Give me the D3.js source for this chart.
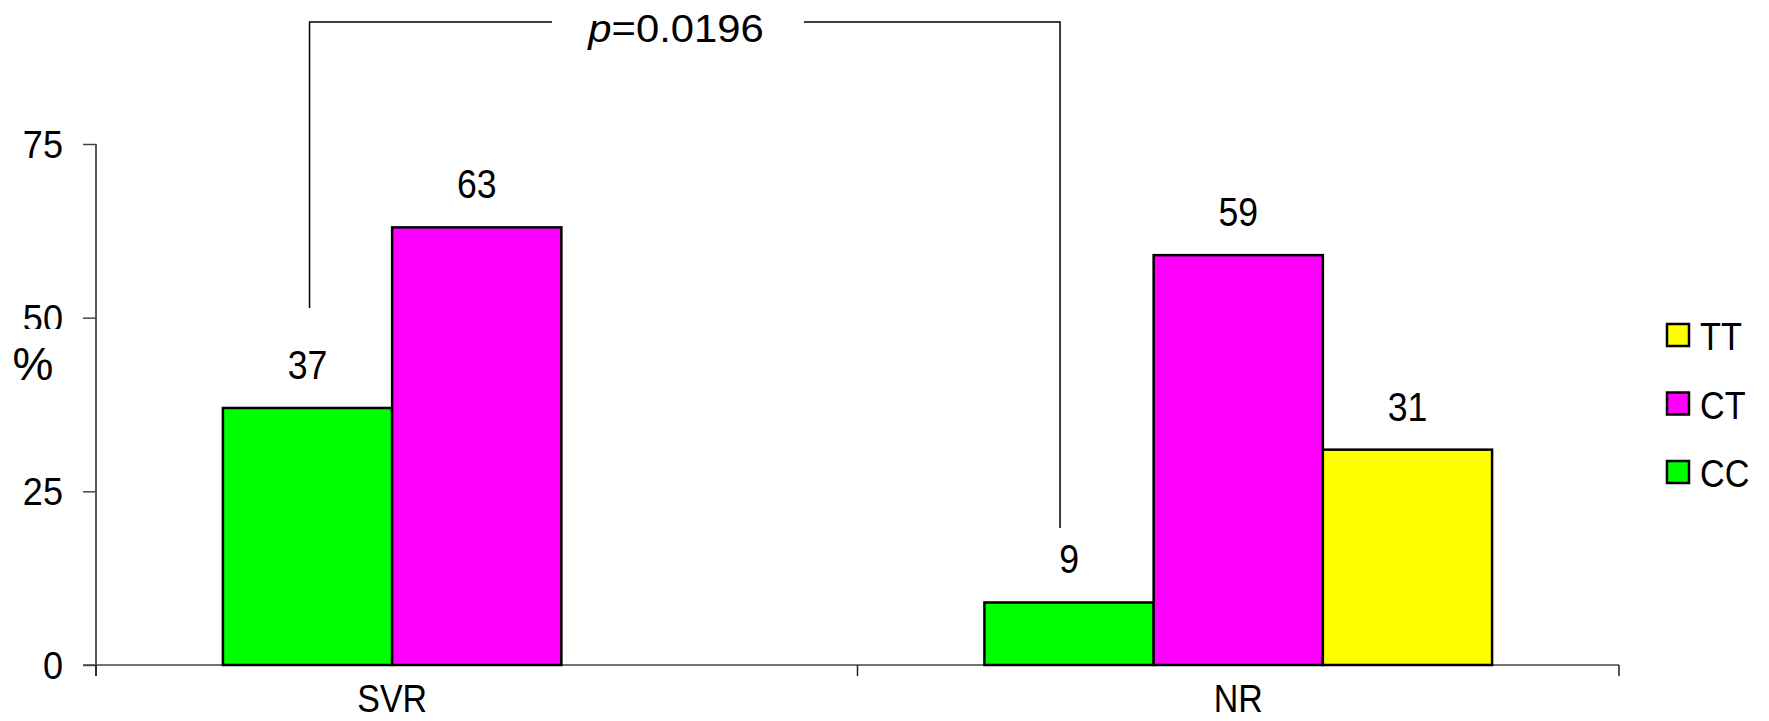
<!DOCTYPE html>
<html>
<head>
<meta charset="utf-8">
<script src="https://cdn.jsdelivr.net/npm/d3@7"></script>
<style>
  html, body { margin: 0; padding: 0; background: #fff; }
  svg { display: block; }
  text { font-family: "Liberation Sans", Arial, sans-serif; fill: #000; }
</style>
</head>
<body>
<svg id="chart" width="1769" height="721"></svg>
<script>
// ---- data ----
const categories = ["SVR", "NR"];
const series = ["CC", "CT", "TT"];
const valuesCC = [37, 9];
const valuesCT = [63, 59];
const valuesTT = [0, 31];
const yTicks = [0, 25, 50, 75];
const legendOrder = ["TT", "CT", "CC"];
const pLabelItalic = "p";
const pLabelRest = "=0.0196";
const yAxisTitle = "%";

const seriesValues = { CC: valuesCC, CT: valuesCT, TT: valuesTT };
const colors = { CC: "#00FF00", CT: "#FF00FF", TT: "#FFFF00" };

// ---- layout ----
const svg = d3.select("#chart");
const plot = { left: 96, right: 1619, top: 144, bottom: 665 };
const gapWidth = 1.5; // Excel-style gap width (150%)

const x0 = d3.scaleBand().domain(categories).range([plot.left, plot.right]).padding(0);
const barW = x0.bandwidth() / (series.length + gapWidth);
const x1 = d3.scaleBand().domain(series).range([0, barW * series.length]).padding(0);
const groupOffset = barW * gapWidth / 2;
const y = d3.scaleLinear().domain([0, 75]).range([plot.bottom, plot.top]);

function sText(sel, x, yy, size, sx, anchor) {
  return sel.append("text")
    .attr("transform", `translate(${x},${yy}) scale(${sx},1)`)
    .attr("text-anchor", anchor)
    .style("font-size", size + "px");
}

// ---- axes ----
const yAxis = d3.axisLeft(y).tickValues(yTicks).tickSize(13).tickPadding(20).tickFormat(d3.format("d"));
const gy = svg.append("g").attr("transform", `translate(${plot.left},0)`).call(yAxis);
gy.select(".domain").attr("stroke", "#222").attr("stroke-width", 1.5).attr("d", `M0,${plot.top}V${plot.bottom + 11}`);
gy.selectAll(".tick line").attr("stroke", "#444").attr("stroke-width", 1.5);
gy.selectAll(".tick text").remove();
gy.selectAll(".tick").each(function(d) {
  sText(d3.select(this), -33, 13.5, 38, 0.95, "end").text(d);
});

// white label box for "%" (covers bottom of the 50 label, like the reference)
svg.append("rect").attr("x", 4).attr("y", 329).attr("width", 66).attr("height", 66).attr("fill", "#fff");
sText(svg, 33, 380, 46, 1.0, "middle").text(yAxisTitle);

const xAxis = d3.axisBottom(x0).tickSize(0).tickFormat("");
const gx = svg.append("g").attr("transform", `translate(0,${plot.bottom})`).call(xAxis);
gx.select(".domain").attr("stroke", "#444").attr("stroke-width", 1.5)
  .attr("d", `M${plot.left - 13},0H${plot.right}`);
// tick marks between categories
const boundaries = [plot.left, ...categories.map(c => x0(c) + x0.bandwidth())];
gx.selectAll(".sep").data(boundaries).enter().append("line")
  .attr("x1", d => d).attr("x2", d => d).attr("y1", 0).attr("y2", 11)
  .attr("stroke", "#222").attr("stroke-width", 1.5);

// ---- bars ----
const rows = categories.map((c, i) => ({ cat: c, vals: series.map(s => ({ s, v: seriesValues[s][i] })) }));
const groups = svg.append("g").selectAll("g").data(rows).enter().append("g")
  .attr("transform", d => `translate(${x0(d.cat) + groupOffset},0)`);

groups.selectAll("rect").data(d => d.vals.filter(e => e.v > 0)).enter().append("rect")
  .attr("x", d => x1(d.s))
  .attr("y", d => y(d.v))
  .attr("width", x1.bandwidth())
  .attr("height", d => y(0) - y(d.v))
  .attr("fill", d => colors[d.s])
  .attr("stroke", "#000")
  .attr("stroke-width", 2.5);

groups.each(function(d) {
  const g = d3.select(this);
  d.vals.filter(e => e.v > 0).forEach(e => {
    sText(g, x1(e.s) + x1.bandwidth() / 2, y(e.v) - 29, 40, 0.89, "middle").text(e.v);
  });
});

// category labels centred over non-empty bars
rows.forEach(r => {
  const nz = r.vals.filter(e => e.v > 0);
  const x0p = x0(r.cat) + groupOffset;
  const lo = x0p + x1(nz[0].s), hi = x0p + x1(nz[nz.length - 1].s) + x1.bandwidth();
  sText(svg, (lo + hi) / 2, 712, 39, 0.87, "middle").text(r.cat);
});

// ---- significance bracket ----
const leftX = x0("SVR") + groupOffset + x1("CC") + x1.bandwidth() / 2 + 2;
const rightX = x0("NR") + groupOffset + x1("CC") + x1.bandwidth() / 2 - 9;
const topY = 22;
const bracket = svg.append("g").attr("stroke", "#000").attr("stroke-width", 1.5).attr("fill", "none");
bracket.append("path").attr("d", `M${leftX},308V${topY}H552`);
bracket.append("path").attr("d", `M804,${topY}H${rightX}V528`);

const pt = sText(svg, 676, 42, 38, 1.1, "middle");
pt.append("tspan").style("font-style", "italic").text(pLabelItalic);
pt.append("tspan").text(pLabelRest);

// ---- legend ----
const leg = svg.append("g");
legendOrder.forEach((s, i) => {
  const ly = 323 + i * 68.5;
  leg.append("rect").attr("x", 1667).attr("y", ly + 1).attr("width", 22).attr("height", 22)
    .attr("fill", colors[s]).attr("stroke", "#000").attr("stroke-width", 2.5);
  sText(leg, 1700, ly + 27, 38, 0.9, "start").text(s);
});
</script>
</body>
</html>
